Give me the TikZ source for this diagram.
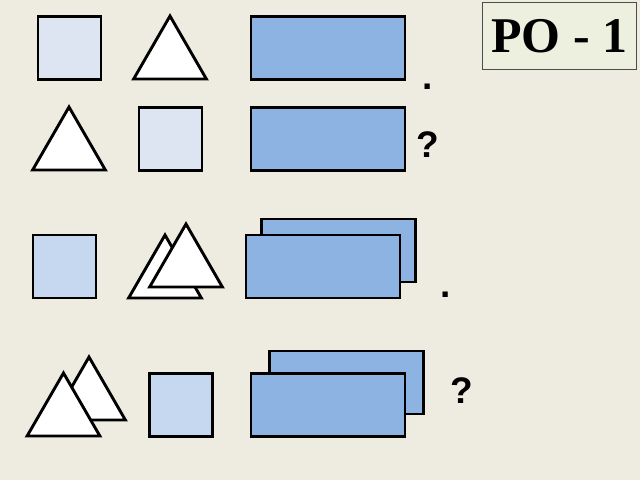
\documentclass[tikz,border=0pt]{standalone}
\usepackage{fontspec}
\setmainfont{Liberation Serif}
\newfontfamily\qfont{Liberation Sans}
\usetikzlibrary{shapes.geometric}
\definecolor{bgcol}{HTML}{EEEBE1}
\definecolor{titlecol}{HTML}{EDF0DF}
\definecolor{palesq}{HTML}{DCE5F1}
\definecolor{bluesq}{HTML}{C6D8EF}
\definecolor{bluerect}{HTML}{8DB3E2}
\begin{document}
\begin{tikzpicture}[%
  sq/.style = {draw, line width = 2.4pt, fill = #1, inner sep = 0pt, minimum size = 63pt},
  tri/.style = {regular polygon, regular polygon sides = 3, draw, line width = 2.9pt,
    fill = white, inner sep = 0pt, minimum size = 84pt},
  card/.style = {draw, line width = 2.2pt, fill = bluerect, inner sep = 0pt,
    minimum width = 154pt, minimum height = 63pt},
  sign/.style = {font = \qfont\bfseries\fontsize{37}{40}\selectfont, inner sep = 0pt,
    anchor = base},
  x = 1pt, y = -1pt]
  \fill[bgcol] (0, 0) rectangle (640, 480);
  \node[draw = black!70, line width = 1.2pt, fill = titlecol, minimum width = 154pt,
    minimum height = 67pt, font = \bfseries\fontsize{50}{54}\selectfont] (title) at (559.5, 36) {РО - 1};

  % first row
  \node[sq = palesq] (sq1) at (69.5, 48) {};
  \node[tri] (tri1) at (170, 58) {};
  \node[card] (card1) at (328, 48) {};
  \node[sign] (dot1) at (428, 89) {.};

  % second row
  \node[tri] (tri2) at (69, 149) {};
  \node[sq = palesq] (sq2) at (170.5, 139) {};
  \node[card] (card2) at (328, 139) {};
  \node[sign] (q2) at (428, 157) {?};

  % third row
  \node[sq = bluesq] (sq3) at (64.5, 266.5) {};
  \node[tri] (tri3a) at (165, 277) {};
  \node[tri] (tri3b) at (186, 266) {};
  \node[card] (card3a) at (338.5, 250.5) {};
  \node[card] (card3b) at (323, 266.5) {};
  \node[sign] (dot3) at (446, 297) {.};

  % fourth row
  \node[tri] (tri4a) at (89, 399) {};
  \node[tri] (tri4b) at (63.5, 415) {};
  \node[sq = bluesq] (sq4) at (181, 405) {};
  \node[card] (card4a) at (346.5, 382.5) {};
  \node[card] (card4b) at (328, 405) {};
  \node[sign] (q4) at (462, 403) {?};
\end{tikzpicture}
\end{document}
